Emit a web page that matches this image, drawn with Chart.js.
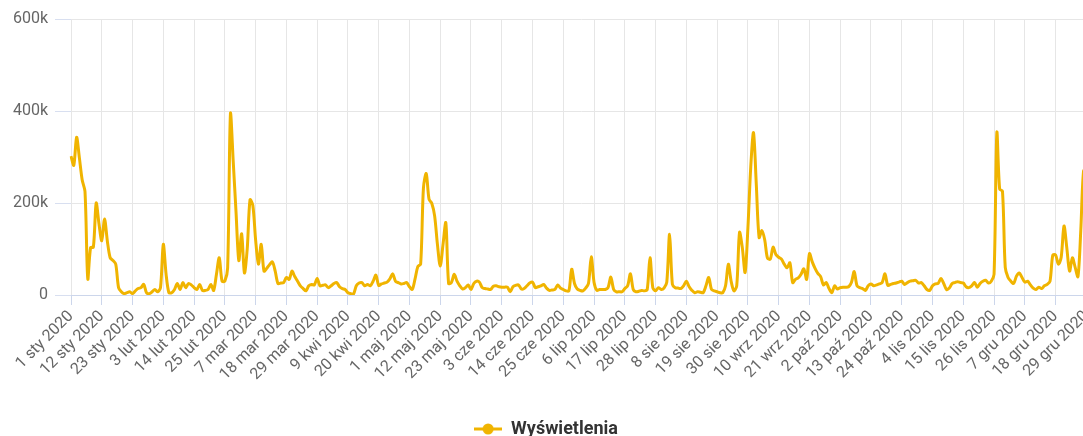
<!DOCTYPE html>
<html lang="pl">
<head>
<meta charset="utf-8">
<script src="https://cdn.jsdelivr.net/npm/chart.js@4.4.1/dist/chart.umd.min.js"></script>
<style>
  html, body { margin: 0; padding: 0; background: #ffffff; overflow: hidden; }
  #wrap { width: 1102px; height: 436px; }
</style>
</head>
<body>
<div id="wrap"><canvas id="chart" width="1102" height="436"></canvas></div>
<script>
// Axis vocabulary
const year = 2020;
const monthNames = ['sty', 'lut', 'mar', 'kwi', 'maj', 'cze', 'lip', 'sie', 'wrz', 'paź', 'lis', 'gru'];
const tickEvery = 11;                       // one date label every 11 days
const yTicks = [0, 200000, 400000, 600000];
const seriesName = 'Wyświetlenia';

// Daily page views in thousands, one array per month
const jan = [302, 282, 343, 298, 250, 225, 35, 103, 104, 200, 155, 118, 165, 117, 81, 75, 67, 16, 7, 3, 5, 7, 3, 9, 14, 16, 23, 5, 3, 7, 12];
const feb = [7, 16, 110, 45, 5, 5, 12, 25, 12, 27, 16, 25, 22, 16, 12, 23, 10, 10, 12, 23, 10, 45, 81, 30, 30, 59, 394, 290, 180];
const mar = [75, 133, 48, 100, 207, 195, 120, 67, 110, 52, 58, 66, 72, 52, 25, 26, 27, 38, 34, 52, 40, 30, 20, 14, 9, 20, 23, 22, 36, 20, 21];
const apr = [22, 16, 20, 25, 27, 18, 14, 12, 5, 3, 2, 20, 26, 27, 20, 23, 20, 30, 43, 21, 24, 26, 28, 35, 46, 30, 27, 24, 25, 27];
const may = [18, 12, 35, 62, 67, 233, 264, 208, 199, 172, 110, 63, 110, 157, 25, 27, 45, 30, 20, 13, 16, 22, 12, 25, 30, 28, 16, 14, 13, 12, 19];
const jun = [20, 18, 17, 17, 17, 7, 18, 21, 22, 13, 14, 20, 26, 28, 16, 18, 20, 23, 15, 10, 11, 12, 22, 15, 12, 9, 9, 56, 25, 13];
const jul = [10, 9, 15, 25, 83, 27, 10, 12, 12, 12, 16, 39, 12, 7, 7, 7, 14, 20, 46, 12, 7, 8, 10, 9, 12, 81, 16, 9, 16, 12, 15];
const aug = [28, 132, 23, 16, 15, 14, 20, 30, 18, 10, 5, 7, 6, 5, 20, 38, 12, 9, 7, 5, 5, 20, 67, 30, 9, 20, 136, 103, 49, 146, 277];
const sep = [353, 240, 125, 140, 120, 80, 78, 104, 88, 82, 78, 67, 59, 70, 27, 34, 37, 45, 57, 34, 90, 72, 58, 47, 40, 22, 27, 14, 5, 20];
const oct = [13, 16, 17, 17, 18, 27, 51, 20, 16, 14, 10, 20, 24, 20, 22, 24, 27, 46, 21, 23, 25, 26, 28, 30, 23, 27, 30, 31, 32, 26, 27];
const nov = [20, 12, 10, 20, 24, 25, 36, 25, 12, 15, 25, 27, 29, 27, 26, 18, 16, 20, 27, 17, 25, 30, 32, 26, 30, 45, 353, 230, 226, 60];
const dec = [38, 30, 25, 41, 48, 38, 28, 30, 22, 15, 12, 17, 14, 20, 23, 30, 87, 87, 67, 82, 150, 103, 52, 81, 60, 40, 140, 270, 260, 200, 150];

const monthly = [jan, feb, mar, apr, may, jun, jul, aug, sep, oct, nov, dec];

// One category per day: "1 sty 2020", "2 sty 2020", ...
const dayLabels = [];
monthNames.forEach((name, m) => {
  const len = new Date(year, m + 1, 0).getDate();
  for (let d = 1; d <= len; d++) dayLabels.push(d + ' ' + name + ' ' + year);
});
const views = monthly.flat().map(v => v * 1000);

const lineColor = '#f0b400';
const fontFamily = 'Roboto, "Open Sans", Arial, sans-serif';

// Legend symbol: short line with a dot in the middle
const marker = document.createElement('canvas');
marker.width = 28;
marker.height = 12;
(function () {
  const c = marker.getContext('2d');
  c.strokeStyle = lineColor;
  c.lineWidth = 3;
  c.beginPath();
  c.moveTo(0, 6);
  c.lineTo(28, 6);
  c.stroke();
  c.fillStyle = lineColor;
  c.beginPath();
  c.arc(14, 6, 5.5, 0, Math.PI * 2);
  c.fill();
})();

const legendFontSize = 18;
const legendHeight = legendFontSize + 10;   // item height + Chart.js' fixed 10px
const legendDrop = 12;                      // push the legend row closer to the bottom edge
const plotBottom = 295;                     // y of the zero line

const legendShift = {
  id: 'legendShift',
  afterLayout(chart) {
    if (chart.legend) {
      chart.legend.top += legendDrop;
      chart.legend.bottom += legendDrop;
    }
  }
};

new Chart(document.getElementById('chart'), {
  type: 'line',
  plugins: [legendShift],
  data: {
    labels: dayLabels,
    datasets: [{
      label: seriesName,
      data: views,
      borderColor: lineColor,
      backgroundColor: lineColor,
      borderWidth: 3,
      tension: 0.3,
      pointRadius: 0,
      pointHoverRadius: 0,
      fill: false
    }]
  },
  options: {
    responsive: false,
    animation: false,
    devicePixelRatio: 1,
    layout: { padding: { top: 19, right: 10, left: 0, bottom: 0 } },
    plugins: {
      tooltip: { enabled: false },
      legend: {
        position: 'bottom',
        labels: {
          usePointStyle: true,
          pointStyle: marker,
          pointStyleWidth: 28,
          padding: 0,
          color: '#333333',
          font: { family: fontFamily, size: legendFontSize, weight: 'bold' }
        }
      }
    },
    scales: {
      x: {
        type: 'category',
        offset: false,
        afterBuildTicks: scale => {
          scale.ticks = scale.ticks.filter(t => t.value % tickEvery === 0);
        },
        afterFit: scale => { scale.height = 436 - legendHeight - plotBottom; },
        grid: {
          color: '#e6e6e6',
          tickColor: '#ccd6eb',
          tickLength: 10
        },
        border: { color: '#ccd6eb', width: 1 },
        ticks: {
          autoSkip: false,
          maxRotation: 45,
          minRotation: 45,
          padding: 2,
          color: '#666666',
          font: { family: fontFamily, size: 16 }
        }
      },
      y: {
        min: 0,
        max: 600000,
        afterBuildTicks: scale => {
          scale.ticks = yTicks.map(v => ({ value: v }));
        },
        afterFit: scale => { scale.width = 71; },
        grid: {
          color: ctx => (ctx.tick && ctx.tick.value === 0 ? '#ccd6eb' : '#e6e6e6'),
          tickColor: '#d8dff0',
          tickLength: 16
        },
        border: { display: false },
        ticks: {
          padding: 7,
          color: '#666666',
          font: { family: fontFamily, size: 16 },
          callback: v => (v === 0 ? '0' : (v / 1000) + 'k')
        }
      }
    }
  }
});
</script>
</body>
</html>
